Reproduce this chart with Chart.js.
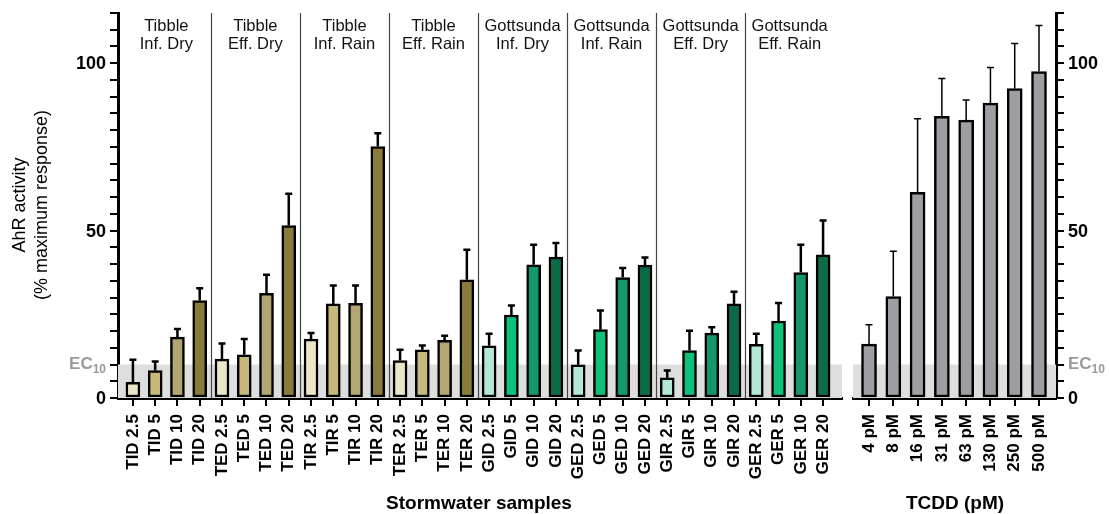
<!DOCTYPE html>
<html>
<head>
<meta charset="utf-8">
<script src="https://cdn.jsdelivr.net/npm/chart.js@4.4.1/dist/chart.umd.min.js"></script>
<style>
  html, body { margin: 0; padding: 0; background: #ffffff; }
  #wrap { position: relative; width: 1109px; height: 514px; overflow: hidden; }
  #c1 { position: absolute; left: 0; top: 0; }
  #c2 { position: absolute; left: 830px; top: 0; }
</style>
</head>
<body>
<div id="wrap">
  <canvas id="c1" width="870" height="514"></canvas>
  <canvas id="c2" width="279" height="514"></canvas>
</div>
<script>
// ---------- DATA ----------
const sampleLabels = [
  'TID 2.5','TID 5','TID 10','TID 20',
  'TED 2.5','TED 5','TED 10','TED 20',
  'TIR 2.5','TIR 5','TIR 10','TIR 20',
  'TER 2.5','TER 5','TER 10','TER 20',
  'GID 2.5','GID 5','GID 10','GID 20',
  'GED 2.5','GED 5','GED 10','GED 20',
  'GIR 2.5','GIR 5','GIR 10','GIR 20',
  'GER 2.5','GER 5','GER 10','GER 20'
];
const sampleMeans = [
  4.7, 8.2, 18.2, 29.1,
  11.6, 12.9, 31.3, 51.5,
  17.6, 28.1, 28.3, 75.1,
  11.2, 14.4, 17.2, 35.3,
  15.6, 24.8, 39.8, 42.1,
  9.9, 20.4, 36.0, 39.7,
  6.0, 14.2, 19.4, 28.1,
  16.0, 23.0, 37.5, 42.8
];
const sampleErrors = [
  6.7, 2.7, 2.4, 3.7,
  4.7, 4.7, 5.5, 9.5,
  1.8, 5.5, 5.3, 4.0,
  3.2, 1.3, 1.4, 9.0,
  3.6, 2.8, 6.0, 4.2,
  4.3, 5.7, 2.8, 2.3,
  2.2, 5.9, 1.7, 3.6,
  3.2, 5.4, 8.3, 10.2
];
const groupNames = [
  ['Tibble','Inf. Dry'], ['Tibble','Eff. Dry'], ['Tibble','Inf. Rain'], ['Tibble','Eff. Rain'],
  ['Gottsunda','Inf. Dry'], ['Gottsunda','Inf. Rain'], ['Gottsunda','Eff. Dry'], ['Gottsunda','Eff. Rain']
];
const tcddLabels = ['4 pM','8 pM','16 pM','31 pM','63 pM','130 pM','250 pM','500 pM'];
const tcddMeans  = [16.1, 30.3, 61.4, 84.1, 83.0, 88.1, 92.4, 97.5];
const tcddErrors = [5.8, 13.5, 22.0, 11.3, 6.0, 10.6, 13.5, 13.8];
const yLabelValues = [0, 50, 100];
const ecValue = 10;
const yMax = 115;
const xTitleLeft = 'Stormwater samples';
const xTitleRight = 'TCDD (pM)';
const yTitle = ['AhR activity', '(% maximum response)'];

// ---------- STYLE ----------
const FONT = "'Liberation Sans', Arial, sans-serif";
const tibbleColors = ['#ede6c6', '#c5b87a', '#b3a672', '#8b7b3b'];
const gottColors   = ['#b3e8d4', '#0fc07a', '#14986a', '#0b6b46'];
const sampleColors = sampleLabels.map((l, i) => (l[0] === 'T' ? tibbleColors : gottColors)[i % 4]);

function errorBarPlugin(errors, lw, capW) {
  return {
    id: 'errbars',
    afterDatasetsDraw(chart) {
      const ctx = chart.ctx;
      const meta = chart.getDatasetMeta(0);
      const ys = chart.scales.y;
      const data = chart.data.datasets[0].data;
      ctx.save();
      ctx.strokeStyle = '#000';
      ctx.lineWidth = lw;
      meta.data.forEach((el, i) => {
        const v = data[i].y;
        const top = ys.getPixelForValue(v + errors[i]);
        const base = ys.getPixelForValue(v);
        ctx.beginPath();
        ctx.moveTo(el.x, base);
        ctx.lineTo(el.x, top);
        ctx.moveTo(el.x - capW / 2, top);
        ctx.lineTo(el.x + capW / 2, top);
        ctx.stroke();
      });
      ctx.restore();
    }
  };
}

function bandPlugin() {
  return {
    id: 'band',
    beforeDatasetsDraw(chart) {
      const ctx = chart.ctx, a = chart.chartArea, ys = chart.scales.y;
      const y0 = ys.getPixelForValue(0), y1 = ys.getPixelForValue(ecValue);
      ctx.save();
      ctx.fillStyle = '#dedede';
      ctx.fillRect(a.left, y1, a.right - a.left, y0 - y1);
      ctx.restore();
    }
  };
}

function drawEC(ctx, x, y, align) {
  ctx.save();
  ctx.fillStyle = '#9a9a9a';
  ctx.textBaseline = 'middle';
  ctx.font = 'bold 17px ' + FONT;
  const w1 = ctx.measureText('EC').width;
  ctx.font = 'bold 12px ' + FONT;
  const w2 = ctx.measureText('10').width;
  let start = align === 'right' ? x - w1 - w2 : x;
  ctx.font = 'bold 17px ' + FONT;
  ctx.textAlign = 'left';
  ctx.fillText('EC', start, y);
  ctx.font = 'bold 12px ' + FONT;
  ctx.fillText('10', start + w1, y + 5);
  ctx.restore();
}

const leftDecor = {
  id: 'leftDecor',
  beforeDatasetsDraw(chart) {
    const ctx = chart.ctx, a = chart.chartArea, xs = chart.scales.x;
    ctx.save();
    ctx.strokeStyle = '#444';
    ctx.lineWidth = 1.2;
    for (let g = 1; g < groupNames.length; g++) {
      const x = Math.round(xs.getPixelForValue(g * 4 - 0.5)) + 0.5;
      ctx.beginPath();
      ctx.moveTo(x, a.top);
      ctx.lineTo(x, a.bottom);
      ctx.stroke();
    }
    ctx.restore();
  },
  afterDraw(chart) {
    const ctx = chart.ctx, a = chart.chartArea, xs = chart.scales.x, ys = chart.scales.y;
    ctx.save();
    // group labels
    ctx.fillStyle = '#111';
    ctx.font = '16.5px ' + FONT;
    ctx.textAlign = 'center';
    ctx.textBaseline = 'middle';
    groupNames.forEach((g, i) => {
      const cx = xs.getPixelForValue(i * 4 + 1.5);
      ctx.fillText(g[0], cx, 26);
      ctx.fillText(g[1], cx, 44);
    });
    // y labels
    ctx.fillStyle = '#000';
    ctx.font = 'bold 18px ' + FONT;
    ctx.textAlign = 'right';
    yLabelValues.forEach(v => ctx.fillText(String(v), a.left - 12, ys.getPixelForValue(v) + 1));
    drawEC(ctx, a.left - 12, ys.getPixelForValue(ecValue), 'right');
    // y title
    ctx.save();
    ctx.translate(20, 205);
    ctx.rotate(-Math.PI / 2);
    ctx.font = '18px ' + FONT;
    ctx.fillStyle = '#000';
    ctx.textAlign = 'center';
    ctx.textBaseline = 'middle';
    ctx.fillText(yTitle[0], 0, 0);
    ctx.fillText(yTitle[1], 0, 22);
    ctx.restore();
    // x title
    ctx.font = 'bold 19px ' + FONT;
    ctx.textAlign = 'center';
    ctx.textBaseline = 'middle';
    ctx.fillStyle = '#000';
    ctx.fillText(xTitleLeft, 479, 504);
    ctx.restore();
  }
};

const rightDecor = {
  id: 'rightDecor',
  afterDraw(chart) {
    const ctx = chart.ctx, a = chart.chartArea, ys = chart.scales.y;
    ctx.save();
    ctx.fillStyle = '#000';
    ctx.font = 'bold 18px ' + FONT;
    ctx.textAlign = 'left';
    ctx.textBaseline = 'middle';
    yLabelValues.forEach(v => ctx.fillText(String(v), a.right + 12, ys.getPixelForValue(v) + 1));
    drawEC(ctx, a.right + 12, ys.getPixelForValue(ecValue), 'left');
    ctx.font = 'bold 19px ' + FONT;
    ctx.textAlign = 'center';
    ctx.fillText(xTitleRight, 955 - 830, 504);
    ctx.restore();
  }
};

function yScale(position) {
  return {
    position,
    min: 0, max: yMax,
    afterFit(s) { s.width = position === 'left' ? 118 : 53; },
    afterBuildTicks(s) {
      const t = [];
      for (let v = 0; v <= yMax; v += 5) t.push({ value: v });
      s.ticks = t;
    },
    ticks: { autoSkip: false, callback: () => '', padding: 0 },
    grid: { drawOnChartArea: false, drawTicks: true, tickLength: 8, color: '#000', lineWidth: 2 },
    border: { display: true, color: '#000', width: 3 }
  };
}

function xScale(labels, min, max) {
  return {
    type: 'linear',
    min, max,
    offset: false,
    afterFit(s) { s.height = 116; },
    afterBuildTicks(s) { s.ticks = labels.map((_, i) => ({ value: i })); },
    ticks: {
      autoSkip: false,
      minRotation: 90, maxRotation: 90,
      padding: 8,
      color: '#000',
      font: { family: FONT, size: 17, weight: 'bold' },
      callback: (v) => labels[v]
    },
    grid: { offset: false, drawOnChartArea: false, drawTicks: true, tickLength: 8, color: '#000', lineWidth: 2 },
    border: { display: true, color: '#000', width: 3 }
  };
}

const common = {
  responsive: false,
  animation: false,
  events: [],
  plugins: { legend: { display: false }, tooltip: { enabled: false } }
};

new Chart(document.getElementById('c1'), {
  type: 'bar',
  data: {
    datasets: [{
      data: sampleMeans.map((v, i) => ({ x: i, y: v })),
      backgroundColor: sampleColors,
      borderColor: '#000',
      borderWidth: 2.5,
      borderSkipped: false,
      barThickness: 14
    }]
  },
  options: Object.assign({}, common, {
    layout: { padding: { top: 13, left: 0, right: 28, bottom: 0 } },
    scales: { x: xScale(sampleLabels, -0.67, 31.85), y: yScale('left') }
  }),
  plugins: [bandPlugin(), leftDecor, errorBarPlugin(sampleErrors, 2.5, 7)]
});

new Chart(document.getElementById('c2'), {
  type: 'bar',
  data: {
    datasets: [{
      data: tcddMeans.map((v, i) => ({ x: i, y: v })),
      backgroundColor: '#9e9da3',
      borderColor: '#000',
      borderWidth: 2.5,
      borderSkipped: false,
      barThickness: 15
    }]
  },
  options: Object.assign({}, common, {
    layout: { padding: { top: 13, left: 23, right: 0, bottom: 0 } },
    scales: { x: xScale(tcddLabels, -0.66, 7.7), y: yScale('right') }
  }),
  plugins: [bandPlugin(), rightDecor, errorBarPlugin(tcddErrors, 1.5, 7)]
});
</script>
</body>
</html>
